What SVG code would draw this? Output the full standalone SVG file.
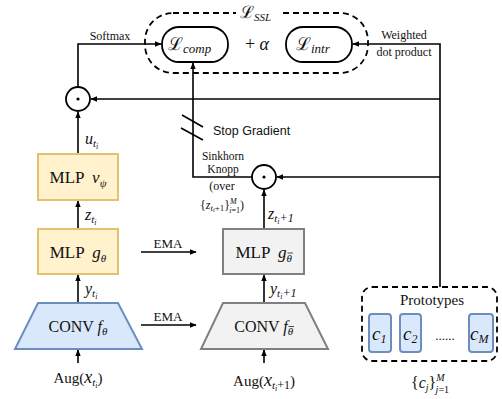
<svg xmlns="http://www.w3.org/2000/svg" width="502" height="399" viewBox="0 0 502 399">
<defs>
<marker id="ah" viewBox="0 0 10 10" refX="9" refY="5" markerWidth="7" markerHeight="7" orient="auto" markerUnits="userSpaceOnUse"><path d="M0,1 L10,5 L0,9 Z" fill="#000"/></marker>
<style>
.ln{stroke:#000;stroke-width:1.6;fill:none}
.arr{stroke:#000;stroke-width:1.6;fill:none;marker-end:url(#ah)}
.t{font-family:"Liberation Serif",serif;fill:#111}
.m{font-family:"Liberation Serif",serif;font-style:italic;fill:#111}
.s{font-family:"Liberation Sans",sans-serif;fill:#111}
.ylw{fill:#fff2cc;stroke:#e3c26e;stroke-width:2}
.blu{fill:#dae8fc;stroke:#6c8ebf;stroke-width:2}
.gry{fill:#f2f2f2;stroke:#808080;stroke-width:2}
.dash{fill:none;stroke:#000;stroke-width:1.8;stroke-dasharray:6,4}
.pill{fill:#fff;stroke:#000;stroke-width:1.8}
.bar{stroke:#333;stroke-width:0.9}
</style>
</defs>

<g id="connectors">
<path class="arr" d="M78,87 V44 H161"/>
<path class="arr" d="M440,287 V44 H353"/>
<path class="arr" d="M440,99 H91"/>
<path class="arr" d="M440,177 H277"/>
<path class="arr" d="M252,177 H193 V63"/>
<path class="ln" d="M182,115 L203,127 M181,128 L203,140"/>
<path class="arr" d="M78,154 V112"/>
<path class="arr" d="M78,229 V201"/>
<path class="arr" d="M78,303 V275"/>
<path class="arr" d="M78,363 V350"/>
<path class="arr" d="M264,229 V190"/>
<path class="arr" d="M264,303 V275"/>
<path class="arr" d="M264,363 V350"/>
<path class="arr" d="M141,252 H196"/>
<path class="arr" d="M141,325 H196"/>
</g>

<g id="lssl">
<rect class="dash" x="145" y="13" width="223" height="60" rx="28"/>
<rect x="236" y="3" width="44" height="19" fill="#fff"/>
<text class="t" x="240" y="18" font-size="17">ℒ<tspan class="m" font-size="11" dy="3">SSL</tspan></text>
<text class="t" x="257" y="50" font-size="18" text-anchor="middle">+ <tspan class="m">α</tspan></text>
</g>
<g id="lcomp">
<rect class="pill" x="162" y="27" width="66" height="35" rx="17"/>
<text class="t" x="168" y="50" font-size="18">ℒ<tspan class="m" font-size="13" dy="3">comp</tspan></text>
</g>
<g id="lintr">
<rect class="pill" x="286" y="27" width="66" height="35" rx="17"/>
<text class="t" x="296" y="50" font-size="18">ℒ<tspan class="m" font-size="13" dy="3">intr</tspan></text>
</g>

<g id="labels">
<text class="t" x="110" y="40" font-size="12" text-anchor="middle">Softmax</text>
<text class="t" x="404" y="39" font-size="12" text-anchor="middle">Weighted</text>
<text class="t" x="404" y="56" font-size="12" text-anchor="middle">dot product</text>
<text class="s" x="213" y="135" font-size="12.5">Stop Gradient</text>
<text class="t" x="223" y="159.5" font-size="11.5" text-anchor="middle">Sinkhorn</text>
<text class="t" x="223" y="172.5" font-size="11.5" text-anchor="middle">Knopp</text>
<text class="t" x="222" y="190" font-size="12" text-anchor="middle">(over</text>
<text class="t" x="222" y="209" font-size="12" text-anchor="middle" fill="#444">{<tspan class="m">z</tspan><tspan class="m" font-size="9" dy="2">t</tspan><tspan class="m" font-size="6.5" dy="1">i</tspan><tspan font-size="9" dy="-1">+1</tspan><tspan dy="-2">}</tspan><tspan class="m" font-size="8" dy="-5">M</tspan><tspan class="m" font-size="8" dx="-7.5" dy="9">i</tspan><tspan font-size="8">=1</tspan><tspan dy="-4">)</tspan></text>
<text class="m" x="85" y="144" font-size="16">u<tspan font-size="11" dy="3">t</tspan><tspan font-size="8" dy="2">i</tspan></text>
<text class="m" x="85" y="220" font-size="16">z<tspan font-size="11" dy="3">t</tspan><tspan font-size="8" dy="2">i</tspan></text>
<text class="m" x="85" y="294" font-size="16">y<tspan font-size="11" dy="3">t</tspan><tspan font-size="8" dy="2">i</tspan></text>
<text class="m" x="268" y="219" font-size="16">z<tspan font-size="11" dy="3">t</tspan><tspan font-size="8" dy="2">i</tspan><tspan class="t" font-size="12" dy="-2">+1</tspan></text>
<text class="m" x="270" y="294" font-size="16">y<tspan font-size="11" dy="3">t</tspan><tspan font-size="8" dy="2">i</tspan><tspan class="t" font-size="12" dy="-2">+1</tspan></text>
<text class="t" x="168" y="248" font-size="13" text-anchor="middle">EMA</text>
<text class="t" x="168" y="321" font-size="13" text-anchor="middle">EMA</text>
<text class="t" x="78" y="383" font-size="15" text-anchor="middle">Aug(<tspan class="m" font-size="18">x</tspan><tspan class="m" font-size="11" dy="3">t</tspan><tspan class="m" font-size="8" dy="2">i</tspan><tspan dy="-5">)</tspan></text>
<text class="t" x="264" y="386" font-size="15" text-anchor="middle">Aug(<tspan class="m" font-size="18">x</tspan><tspan class="m" font-size="11" dy="3">t</tspan><tspan class="m" font-size="8" dy="2">i</tspan><tspan font-size="12" dy="-2">+1</tspan><tspan dy="-3">)</tspan></text>
<text class="t" x="430" y="388" font-size="16" text-anchor="middle">{<tspan class="m">c</tspan><tspan class="m" font-size="10" dy="3">j</tspan><tspan dy="-3">}</tspan><tspan class="m" font-size="10" dy="-7">M</tspan><tspan class="m" font-size="10" dx="-9" dy="12">j</tspan><tspan font-size="10">=1</tspan></text>
</g>

<g id="dot1">
<circle cx="78" cy="99" r="12" fill="#fff" stroke="#000" stroke-width="1.8"/>
<circle cx="78" cy="99" r="1.6" fill="#000"/>
</g>
<g id="dot2">
<circle cx="264" cy="177" r="12" fill="#fff" stroke="#000" stroke-width="1.8"/>
<circle cx="264" cy="177" r="1.6" fill="#000"/>
</g>

<g id="mlp_v">
<rect class="ylw" x="38" y="154" width="80" height="46"/>
<text class="t" x="78" y="183" font-size="17" text-anchor="middle">MLP <tspan class="m" dx="4">v</tspan><tspan class="m" font-size="11" dy="4">ψ</tspan></text>
</g>
<g id="mlp_g">
<rect class="ylw" x="38" y="229" width="80" height="45"/>
<text class="t" x="78" y="258" font-size="17" text-anchor="middle">MLP <tspan class="m" dx="4">g</tspan><tspan class="m" font-size="11" dy="4">θ</tspan></text>
</g>
<g id="mlp_g_bar">
<rect class="gry" x="223" y="229" width="81" height="45"/>
<text class="t" x="235.5" y="258" font-size="17">MLP <tspan class="m" dx="4">g</tspan><tspan class="m" font-size="11" dy="4">θ</tspan></text>
<line class="bar" x1="287.5" y1="253" x2="293" y2="253"/>
</g>
<g id="conv_left">
<path class="blu" d="M38,303 H118 L142,349 H15 Z"/>
<text class="t" x="78" y="332" font-size="16" text-anchor="middle">CONV <tspan class="m">f</tspan><tspan class="m" font-size="11" dy="3">θ</tspan></text>
</g>
<g id="conv_right">
<path class="gry" d="M223,303 H305 L328,349 H201 Z"/>
<text class="t" x="234.3" y="332" font-size="16">CONV <tspan class="m">f</tspan><tspan class="m" font-size="11" dy="3">θ</tspan></text>
<line class="bar" x1="288.5" y1="326.5" x2="294" y2="326.5"/>
</g>

<g id="prototypes">
<rect class="dash" x="362" y="287" width="135" height="74" rx="10"/>
<text class="t" x="432" y="305" font-size="15" text-anchor="middle">Prototypes</text>
<rect class="blu" x="369" y="314" width="22" height="38" rx="3" stroke-width="1.6"/>
<rect class="blu" x="400" y="314" width="21" height="38" rx="3" stroke-width="1.6"/>
<rect class="blu" x="469" y="314" width="24" height="38" rx="3" stroke-width="1.6"/>
<text class="m" x="372" y="340" font-size="19">c<tspan font-size="12" dy="3">1</tspan></text>
<text class="m" x="403" y="340" font-size="19">c<tspan class="t" font-size="12" dy="3">2</tspan></text>
<text class="t" x="445" y="340" font-size="13" text-anchor="middle">......</text>
<text class="m" x="470" y="340" font-size="19">c<tspan font-size="12" dy="3">M</tspan></text>
</g>
</svg>
